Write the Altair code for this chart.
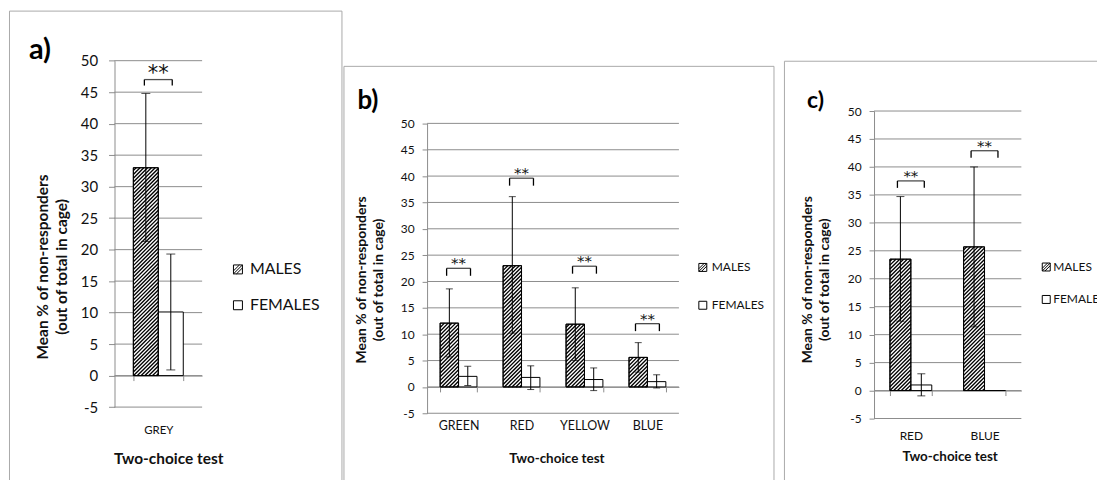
import altair as alt
import pandas as pd

SEXES = ["MALES", "FEMALES"]
Y_TICKS = [-5, 0, 5, 10, 15, 20, 25, 30, 35, 40, 45, 50]
Y_TITLE = ["Mean % of non-responders", "(out of total in cage)"]
X_TITLE = "Two-choice test"

# ---- panel a ----
A_CATS = ["GREY"]
A_MALE = [33.0]
A_MALE_HI = [44.8]
A_MALE_LO = [21.3]
A_FEM = [10.1]
A_FEM_HI = [19.3]
A_FEM_LO = [0.9]
A_SIG = [47.0]

# ---- panel b ----
B_CATS = ["GREEN", "RED", "YELLOW", "BLUE"]
B_MALE = [12.1, 23.0, 11.9, 5.6]
B_MALE_HI = [18.6, 36.1, 18.8, 8.4]
B_MALE_LO = [5.7, 10.2, 5.0, 2.8]
B_FEM = [2.0, 1.8, 1.4, 1.0]
B_FEM_HI = [3.9, 4.0, 3.6, 2.3]
B_FEM_LO = [0.25, -0.5, -0.7, -0.2]
B_SIG = [22.5, 39.6, 22.9, 12.0]

# ---- panel c ----
C_CATS = ["RED", "BLUE"]
C_MALE = [23.5, 25.7]
C_MALE_HI = [34.7, 40.0]
C_MALE_LO = [12.4, 11.4]
C_FEM = [1.0, 0.0]
C_FEM_HI = [3.0, None]
C_FEM_LO = [-0.95, None]
C_SIG = [37.5, 42.9]

FONT = "Lato"
INK = "#111111"
GRID = "#8c8c8c"
FRAME = "#a9a9a9"

HATCH_PATH = "M-1,-1H1V1H-1Z M-1,0.33L0.33,-1 M-0.33,1L1,-0.33 M-1,1L1,-1"
SQUARE_PATH = "M-1,-1H1V1H-1Z"

HATCH_PERIOD = 2.7   # px, perpendicular spacing of the hatch lines
HATCH_WIDTH = 1.35   # px


def hatch_rows(male, step, po, barw, ppu):
    """45-degree hatch segments clipped to each male bar, in (category-index, value) units."""
    sp = HATCH_PERIOD * 2 ** 0.5
    rows = []
    for i, v in enumerate(male):
        left = (i + po) * step
        w, h = barw, v * ppu
        k = -w + sp / 2
        while k < h:
            u0, u1 = max(0.0, -k), min(w, h - k)
            if u1 > u0:
                rows.append(dict(hx=(left + u0) / step, hx2=(left + u1) / step,
                                 hy=(u0 + k) / ppu, hy2=(u1 + k) / ppu))
            k += sp
    return pd.DataFrame(rows)


def panel(letter, cats, male, male_hi, male_lo, fem, fem_hi, fem_lo, sig, g):
    rows = []
    for i, c in enumerate(cats):
        rows.append(dict(cat=c, sex="MALES", val=male[i], hi=male_hi[i], lo=male_lo[i]))
        rows.append(dict(cat=c, sex="FEMALES", val=fem[i], hi=fem_hi[i], lo=fem_lo[i]))
    df = pd.DataFrame(rows)
    sdf = pd.DataFrame(dict(cat=cats, sig=sig))
    gdf = pd.DataFrame(dict(v=Y_TICKS))
    one = pd.DataFrame(dict(t=[letter]))

    x0, x1 = g["xr"]
    yb, yt = g["yr"]
    ppu = (yb - yt) / 55.0
    zero_px = yb - 5 * ppu
    n = len(cats)
    step = (x1 - x0) / n
    pi = g["pi"]
    bandw = step * (1 - pi)
    barw = bandw / 2

    xs = alt.Scale(domain=cats, range=[x0, x1], paddingInner=pi, paddingOuter=pi / 2)
    ys = alt.Scale(domain=[-5, 50], range=[yb, yt], nice=False, zero=False)
    xos = alt.Scale(domain=SEXES, paddingInner=0, paddingOuter=0)
    hxs = alt.Scale(domain=[0, n], range=[x0, x1], nice=False, zero=False)

    xaxis = alt.Axis(
        title=X_TITLE, orient="bottom", offset=-(g["H"] - zero_px),
        domain=True, domainColor=GRID, domainWidth=1,
        ticks=True, tickBand="extent", tickSize=5, tickColor=GRID,
        labelAngle=0, labelFont=FONT, labelFontSize=g["xl"], labelColor=INK,
        labelBaseline="top", labelPadding=g["xlp"],
        titleFont=FONT, titleFontWeight="bold", titleFontSize=g["tf"], titleColor=INK,
        titleX=g["xtx"], titleY=g["xty"], titleBaseline="alphabetic", titleAlign="center",
        grid=False,
    )
    yaxis = alt.Axis(
        values=Y_TICKS, title=Y_TITLE, orient="left", offset=-x0,
        labelExpr="toString(datum.value)",
        domain=True, domainColor=GRID, domainWidth=1,
        ticks=True, tickSize=g["ts"], tickColor=GRID,
        labelFont=FONT, labelFontSize=g["yl"], labelColor=INK, labelPadding=g["ylp"],
        grid=False,
        titleFont=FONT, titleFontWeight="bold", titleFontSize=g["ytf"], titleColor=INK,
        titleLineHeight=g["tlh"], titleAngle=-90, titleAlign="center", titleBaseline="middle",
        titleX=g["ytx"], titleY=g["yty"],
    )

    XA = alt.X("cat:N", scale=xs, sort=cats, axis=xaxis)
    XN = alt.X("cat:N", scale=xs, sort=cats, axis=None)
    XO = alt.XOffset("sex:N", scale=xos, sort=SEXES)

    def Y(f):
        return alt.Y(f, scale=ys, axis=yaxis)

    base = alt.Chart(df)

    under = [
        alt.Chart(gdf).mark_rule(color=GRID, strokeWidth=1)
        .encode(y=Y("v:Q"), x=alt.value(x0), x2=alt.value(x1)),
        base.mark_bar(fill="white", stroke="black", strokeWidth=1)
        .encode(x=XA, xOffset=XO, y=Y("val:Q")),
    ]
    under_ch = alt.layer(*under)

    hdf = hatch_rows(male, step, pi / 2, barw, ppu)
    hatch_ch = (
        alt.Chart(hdf).mark_rule(color="black", strokeWidth=HATCH_WIDTH)
        .encode(x=alt.X("hx:Q", scale=hxs, axis=None), x2="hx2:Q", y=Y("hy:Q"), y2="hy2:Q")
    )

    over = [
        base.transform_filter("datum.sex == 'MALES'")
        .mark_bar(fill="white", fillOpacity=0, stroke="black", strokeWidth=1)
        .encode(x=XN, xOffset=XO, y=Y("val:Q")),
        base.mark_rule(color="black", strokeWidth=1)
        .encode(x=XN, xOffset=XO, y=Y("lo:Q"), y2="hi:Q"),
    ]
    for f in ["lo:Q", "hi:Q"]:
        over.append(
            base.mark_tick(color="black", thickness=1, size=g["cap"])
            .encode(x=XN, xOffset=XO, y=Y(f))
        )
    sbase = alt.Chart(sdf).transform_calculate(leg=f"datum.sig - {g['leg'] / ppu}")
    over.append(
        sbase.mark_tick(color="black", thickness=1.3, size=g["bw"])
        .encode(x=XN, y=Y("sig:Q"))
    )
    for sgn in (-1, 1):
        over.append(
            sbase.mark_rule(color="black", strokeWidth=1.3)
            .encode(x=XN, xOffset=alt.value(bandw / 2 + sgn * g["bw"] / 2), y=Y("sig:Q"), y2="leg:Q")
        )
    over.append(
        sbase.mark_text(text="**", font="DejaVu Sans", fontSize=g["af"], color=INK,
                        baseline="alphabetic", dy=g["ady"])
        .encode(x=XN, y=Y("sig:Q"))
    )
    if g.get("custom_legend"):
        for j, (lab, shp) in enumerate(zip(SEXES, [HATCH_PATH, SQUARE_PATH])):
            yy = g["ly0"] + j * g["lgap"]
            lab_df = pd.DataFrame(dict(t=[lab]))
            over.append(
                alt.Chart(lab_df)
                .mark_point(shape=shp, size=g["ss"], filled=False, fill="white",
                            stroke="black", strokeWidth=1, opacity=1)
                .encode(x=alt.value(g["lx"] + g["ss"] ** 0.5 / 2), y=alt.value(yy))
            )
            over.append(
                alt.Chart(lab_df)
                .mark_text(align="left", baseline="middle", font=FONT, fontSize=g["lf"],
                           color=INK, clip=True)
                .encode(text="t:N", x=alt.value(g["lx"] + g["ss"] ** 0.5 + g["lo"]), y=alt.value(yy))
            )
        over.append(
            alt.Chart(one).mark_rule(color=FRAME, strokeWidth=1)
            .encode(x=alt.value(0), y=alt.value(0), y2=alt.value(g["H"]))
        )
        over.append(
            alt.Chart(one).mark_rule(color=FRAME, strokeWidth=1)
            .encode(x=alt.value(0), x2=alt.value(g["W"]), y=alt.value(0))
        )
    else:
        over.append(
            base.mark_point(opacity=0, size=1)
            .encode(
                x=XN, xOffset=XO, y=Y("val:Q"),
                shape=alt.Shape(
                    "sex:N", sort=SEXES,
                    scale=alt.Scale(domain=SEXES, range=[HATCH_PATH, SQUARE_PATH]),
                    legend=alt.Legend(
                        title=None, orient="none", legendX=g["lx"], legendY=g["ly"],
                        symbolSize=g["ss"], symbolFillColor="white", symbolStrokeColor="black",
                        symbolStrokeWidth=1, symbolOpacity=1, padding=0,
                        labelFont=FONT, labelFontSize=g["lf"], labelColor=INK,
                        labelOffset=g["lo"], rowPadding=g["rp"],
                    ),
                ),
            )
        )
    over.append(
        alt.Chart(one).mark_text(align="left", baseline="alphabetic", font=FONT,
                                 fontWeight="bold", fontSize=g["tfs"], color="black")
        .encode(text="t:N", x=alt.value(g["tdx"]), y=alt.value(g["tdy"]))
    )
    over_ch = alt.layer(*over)

    ch = (
        alt.layer(under_ch, hatch_ch, over_ch)
        .resolve_scale(x="independent", xOffset="independent")
        .properties(width=g["W"], height=g["H"])
    )
    if g.get("custom_legend"):
        ch = ch.properties(view=alt.ViewBackground(strokeOpacity=0))
    return ch


GA = dict(W=334, H=540, xr=(106, 194), yr=(398.3, 50.3), pi=0.43,
          xl=11.5, xlp=44, tf=15.5, xtx=160, xty=88, ts=6, yl=15, ylp=11, tlh=19, ytf=15.5,
          ytx=-72, yty=257, cap=9, bw=28, leg=6, af=21, ady=0,
          lx=222, ly=252, ss=81, lf=16, lo=4, rp=20, tdx=20, tdy=48.5, tfs=29)
GB = dict(W=432, H=429, xr=(84, 337), yr=(349.0, 57.8), pi=0.415,
          xl=12.5, xlp=28, tf=13.5, xtx=214, xty=76, ts=5, yl=12, ylp=8, tlh=17, ytf=14,
          ytx=-66, yty=214.5, cap=7, bw=24, leg=7.5, af=15, ady=0,
          lx=355, ly=196.5, ss=64, lf=12, lo=3, rp=26, tdx=14, tdy=43.5, tfs=26)
GC = dict(W=314, H=438, xr=(90, 238), yr=(358.9, 50), pi=0.432,
          xl=12, xlp=35, tf=13.5, xtx=166, xty=70.5, ts=5, yl=12, ylp=8, tlh=17, ytf=14,
          ytx=-67, yty=219, cap=8, bw=27, leg=7, af=15, ady=0,
          custom_legend=True, ly0=206.7, lgap=32.6,
          lx=259, ss=64, lf=12, lo=3, tdx=22.7, tdy=46.7, tfs=23)

pa = panel("a)", A_CATS, A_MALE, A_MALE_HI, A_MALE_LO, A_FEM, A_FEM_HI, A_FEM_LO, A_SIG, GA)
pb = panel("b)", B_CATS, B_MALE, B_MALE_HI, B_MALE_LO, B_FEM, B_FEM_HI, B_FEM_LO, B_SIG, GB)
pc = panel("c)", C_CATS, C_MALE, C_MALE_HI, C_MALE_LO, C_FEM, C_FEM_HI, C_FEM_LO, C_SIG, GC)

RES = dict(x="independent", y="independent", shape="independent", xOffset="independent")

ab = (
    alt.hconcat(pa, pb, spacing=0, center=True)
    .resolve_scale(**RES).resolve_legend(shape="independent")
)
chart = (
    alt.hconcat(ab, pc, spacing=9, center=True)
    .resolve_scale(**RES)
    .resolve_legend(shape="independent")
    .properties(padding=0, background="white")
    .configure_view(stroke=FRAME, strokeWidth=1)
)

chart.save("out.html", embed_options={"renderer": "svg", "actions": False})
